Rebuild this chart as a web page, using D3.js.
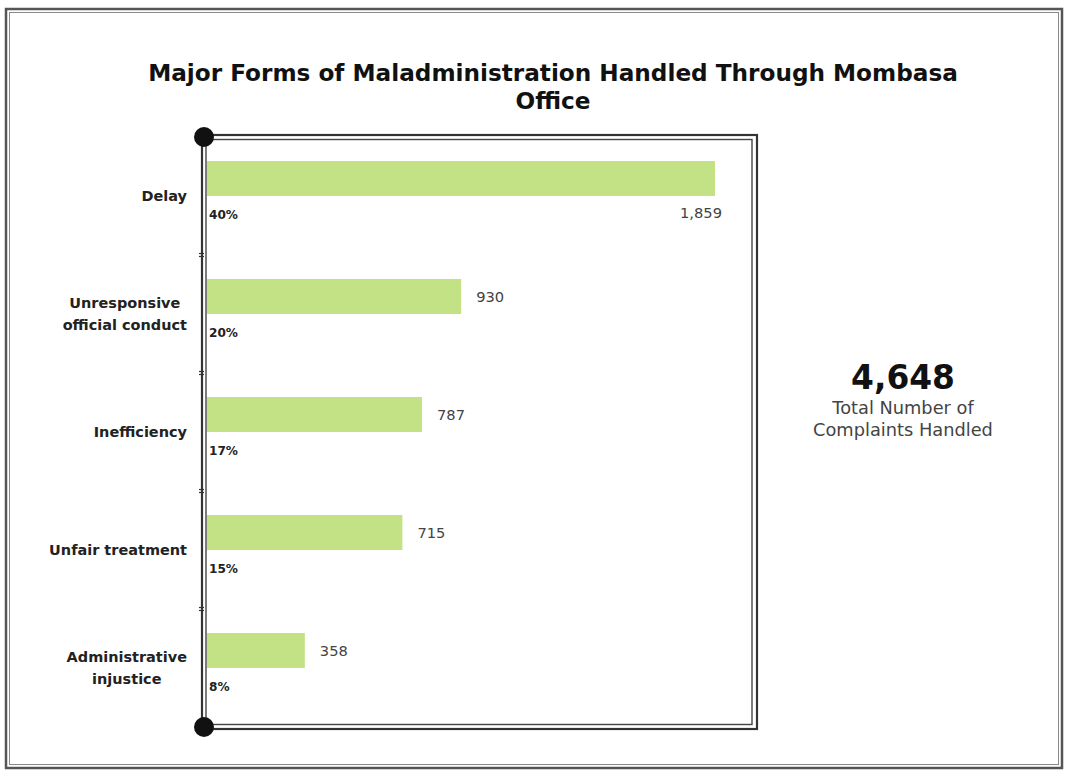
<!DOCTYPE html>
<html>
<head>
<meta charset="utf-8">
<script src="https://cdn.jsdelivr.net/npm/d3@7"></script>
<style>
  html, body { margin: 0; padding: 0; background: #fff; }
  svg { display: block; font-family: "DejaVu Sans", "Lato", sans-serif; }
</style>
</head>
<body>
<svg id="chart" width="1066" height="772"></svg>
<script>
// Complaint categories handled through the Mombasa office
const categories = [
  ["Delay"],
  ["Unresponsive", "official conduct"],
  ["Inefficiency"],
  ["Unfair treatment"],
  ["Administrative", "injustice"]
];
const counts = [1859, 930, 787, 715, 358];
const shares = ["40%", "20%", "17%", "15%", "8%"];
const totalComplaints = 4648;
const titleLines = ["Major Forms of Maladministration Handled Through Mombasa", "Office"];
const summaryLines = ["Total Number of", "Complaints Handled"];

const svg = d3.select("#chart");
const fmt = d3.format(",");

// Pick a font size so that a sample string spans the wanted width
function fitSize(sample, width, weight) {
  const t = svg.append("text").attr("font-size", 100).attr("font-weight", weight).text(sample);
  const w = t.node().getComputedTextLength();
  t.remove();
  return 100 * width / w;
}
const titleSize = fitSize(titleLines[0], 810, "bold");
const catSize = fitSize("Unfair treatment", 138, "bold");
const countSize = fitSize("1,859", 42, "normal");
const shareSize = fitSize("40%", 29, "bold");
const bigSize = fitSize("4,648", 104, "bold");
const subSize = fitSize("Complaints Handled", 180, "normal");

// Outer double-line frame
svg.append("rect").attr("x", 6).attr("y", 9).attr("width", 1056).attr("height", 759)
  .attr("fill", "none").attr("stroke", "#555").attr("stroke-width", 2.5);
svg.append("rect").attr("x", 9.5).attr("y", 12.5).attr("width", 1049).attr("height", 752)
  .attr("fill", "none").attr("stroke", "#888").attr("stroke-width", 1);

// Title
svg.append("text")
  .attr("text-anchor", "middle")
  .attr("font-weight", "bold")
  .attr("font-size", titleSize)
  .attr("fill", "#111")
  .selectAll("tspan").data(titleLines).join("tspan")
  .attr("x", 553).attr("y", (d, i) => 81 + i * 28)
  .text(d => d);

// Plot frame
const plot = { left: 204, right: 755, top: 137, bottom: 727 };

svg.append("rect")
  .attr("x", plot.left - 2).attr("y", plot.top - 2)
  .attr("width", plot.right - plot.left + 4).attr("height", plot.bottom - plot.top + 4)
  .attr("fill", "none").attr("stroke", "#333").attr("stroke-width", 2.2);
svg.append("rect")
  .attr("x", plot.left + 2).attr("y", plot.top + 2.5)
  .attr("width", plot.right - plot.left - 5).attr("height", plot.bottom - plot.top - 5)
  .attr("fill", "none").attr("stroke", "#444").attr("stroke-width", 1.4);

// Scales
const y = d3.scaleBand()
  .domain(d3.range(categories.length))
  .range([plot.top, plot.bottom]);

const x = d3.scaleLinear()
  .domain([0, d3.max(counts)])
  .range([plot.left + 3, 715]);

// Band separators on the axis (small double ticks)
const seps = d3.range(1, categories.length).map(i => y(i));
svg.append("g").selectAll("g").data(seps).join("g")
  .each(function(d) {
    const g = d3.select(this);
    [-1.5, 1.5].forEach(o => {
      g.append("line")
        .attr("x1", plot.left - 5).attr("x2", plot.left)
        .attr("y1", d + o).attr("y2", d + o)
        .attr("stroke", "#333").attr("stroke-width", 1.2);
    });
  });

const barH = 35;
const rows = svg.append("g").selectAll("g")
  .data(counts.map((v, i) => ({ v, i })))
  .join("g");

// Bars sit just above the band centre
rows.append("rect")
  .attr("x", x(0))
  .attr("y", d => y(d.i) + y.bandwidth() / 2 - barH)
  .attr("width", d => x(d.v) - x(0))
  .attr("height", barH)
  .attr("fill", "#c3e286");

// Count labels
rows.append("text")
  .attr("x", d => d.i === 0 ? x(d.v) + 7 : x(d.v) + 15)
  .attr("y", d => d.i === 0
      ? y(d.i) + y.bandwidth() / 2 + 22
      : y(d.i) + y.bandwidth() / 2 - barH / 2 + 1)
  .attr("text-anchor", d => d.i === 0 ? "end" : "start")
  .attr("dominant-baseline", d => d.i === 0 ? "auto" : "middle")
  .attr("font-size", countSize)
  .attr("fill", "#444")
  .text(d => fmt(d.v));

// Share labels under each bar
rows.append("text")
  .attr("x", plot.left + 5)
  .attr("y", d => y(d.i) + y.bandwidth() / 2 + 23)
  .attr("font-size", shareSize)
  .attr("font-weight", "bold")
  .attr("fill", "#222")
  .text((d, i) => shares[i]);

// Category labels: widest line right-aligned, lines centred on each other
const labelRight = 187;
rows.append("text")
  .attr("text-anchor", "middle")
  .attr("font-size", catSize)
  .attr("font-weight", "bold")
  .attr("fill", "#222")
  .each(function(d) {
    const el = d3.select(this);
    const lines = categories[d.i];
    const cy = y(d.i) + y.bandwidth() / 2;
    const lh = 22;
    const ts = el.selectAll("tspan").data(lines).join("tspan")
      .attr("y", (t, k) => cy + 5 + (k - (lines.length - 1) / 2) * lh)
      .text(t => t);
    const widest = d3.max(ts.nodes(), n => n.getComputedTextLength());
    ts.attr("x", labelRight - widest / 2);
  });

// End-point markers on the axis
[plot.top, plot.bottom].forEach(cy => {
  svg.append("circle").attr("cx", plot.left).attr("cy", cy).attr("r", 10).attr("fill", "#111");
});

// Summary figure
svg.append("text")
  .attr("x", 903).attr("y", 389)
  .attr("text-anchor", "middle")
  .attr("font-size", bigSize)
  .attr("font-weight", "bold")
  .attr("fill", "#111")
  .text(fmt(totalComplaints));

svg.append("text")
  .attr("text-anchor", "middle")
  .attr("font-size", subSize)
  .attr("fill", "#444")
  .selectAll("tspan").data(summaryLines).join("tspan")
  .attr("x", 903).attr("y", (d, i) => 414 + i * 22)
  .text(d => d);
</script>
</body>
</html>
